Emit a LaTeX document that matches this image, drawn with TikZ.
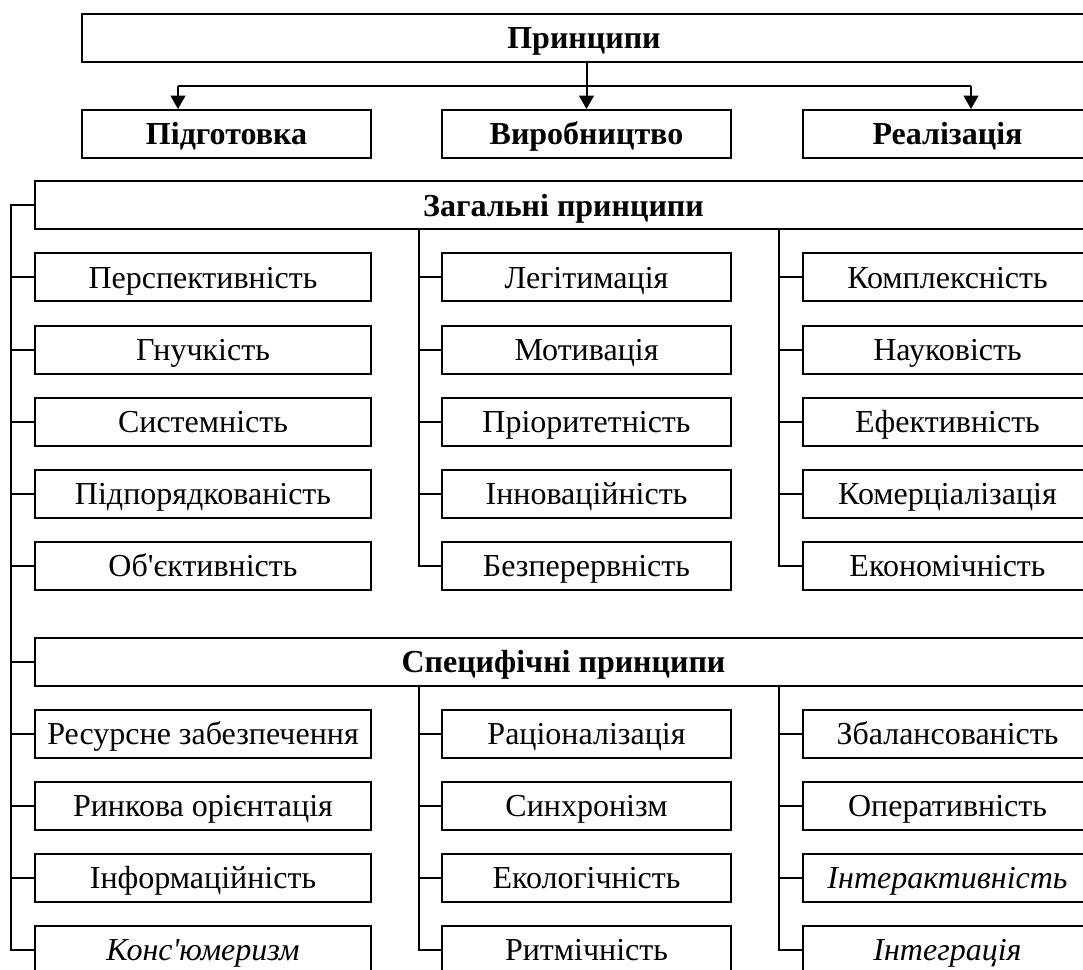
\documentclass[tikz,border=0pt]{standalone}
\usepackage{fontspec}
\newfontfamily\tnr{Liberation Serif}
\usetikzlibrary{arrows.meta}
\begin{document}
\begin{tikzpicture}[x=0.75pt,y=-0.75pt,
  lw/.style={line width=1.5pt},
  box/.style={draw, lw, inner sep=0pt, minimum height=36pt,
    text height=15.9pt, text depth=0pt,
    font=\tnr\fontsize{24}{28}\selectfont},
  hbox/.style={box, font=\tnr\bfseries\fontsize{24}{28}\selectfont},
  wide/.style={minimum width=252pt},
  narrow/.style={minimum width=216.75pt},
  it/.style={font=\tnr\itshape\fontsize{24}{28}\selectfont},
  tree/.style={lw},
  arr/.style={lw, -{Triangle[length=10pt,width=11pt]}}
]
\useasboundingbox (0,0) rectangle (1083,970);
\clip (0,0) rectangle (1083,970);

% title and the three stages
\node[hbox, minimum width=753pt] (top) at (584,38) {Принципи};
\node[hbox, narrow] (prep) at (226.5,134) {Підготовка};
\node[hbox, narrow] (prod) at (586.5,134) {Виробництво};
\node[hbox, narrow] (real) at (947.5,134) {Реалізація};

\coordinate (a1) at (178,86);
\coordinate (a3) at (971,86);
\draw[lw] (a1) -- (a3);
\draw[arr] (top.south -| prod) -- (prod.north);
\draw[arr] (a1) -- (a1 |- prep.north);
\draw[arr] (a3) -- (a3 |- real.north);

% general principles
\node[hbox, minimum width=792.75pt] (gen) at (563.5,205.5) {Загальні принципи};

\node[box, wide] (g11) at (203,277.5) {Перспективність};
\node[box, wide] (g12) at (203,349.6) {Гнучкість};
\node[box, wide] (g13) at (203,421.7) {Системність};
\node[box, wide] (g14) at (203,493.8) {Підпорядкованість};
\node[box, wide] (g15) at (203,565.9) {Об'єктивність};

\node[box, narrow] (g21) at (586.5,277.5) {Легітимація};
\node[box, narrow] (g22) at (586.5,349.6) {Мотивація};
\node[box, narrow] (g23) at (586.5,421.7) {Пріоритетність};
\node[box, narrow] (g24) at (586.5,493.8) {Інноваційність};
\node[box, narrow] (g25) at (586.5,565.9) {Безперервність};

\node[box, narrow] (g31) at (947.5,277.5) {Комплексність};
\node[box, narrow] (g32) at (947.5,349.6) {Науковість};
\node[box, narrow] (g33) at (947.5,421.7) {Ефективність};
\node[box, narrow] (g34) at (947.5,493.8) {Комерціалізація};
\node[box, narrow] (g35) at (947.5,565.9) {Економічність};

% specific principles
\node[hbox, minimum width=792.75pt] (spec) at (563.5,662) {Специфічні принципи};

\node[box, wide] (s11) at (203,734) {Ресурсне забезпечення};
\node[box, wide] (s12) at (203,806) {Ринкова орієнтація};
\node[box, wide] (s13) at (203,878) {Інформаційність};
\node[box, wide, it] (s14) at (203,950) {Конс'юмеризм};

\node[box, narrow] (s21) at (586.5,734) {Раціоналізація};
\node[box, narrow] (s22) at (586.5,806) {Синхронізм};
\node[box, narrow] (s23) at (586.5,878) {Екологічність};
\node[box, narrow] (s24) at (586.5,950) {Ритмічність};

\node[box, narrow] (s31) at (947.5,734) {Збалансованість};
\node[box, narrow] (s32) at (947.5,806) {Оперативність};
\node[box, narrow, it] (s33) at (947.5,878) {Інтерактивність};
\node[box, narrow, it] (s34) at (947.5,950) {Інтеграція};

% connecting tree
\coordinate (L) at (11,0);
\coordinate (S2) at (419,0);
\coordinate (S3) at (779,0);

\draw[tree] (gen.west) -- (gen.west -| L) |- (s14.west);
\foreach \n in {spec,g11,g12,g13,g14,g15,s11,s12,s13}
  \draw[tree] (L |- \n.west) -- (\n.west);

\draw[tree] (gen.south -| S2) |- (g25.west);
\draw[tree] (gen.south -| S3) |- (g35.west);
\foreach \n in {g21,g22,g23,g24}
  \draw[tree] (S2 |- \n.west) -- (\n.west);
\foreach \n in {g31,g32,g33,g34}
  \draw[tree] (S3 |- \n.west) -- (\n.west);

\draw[tree] (spec.south -| S2) |- (s24.west);
\draw[tree] (spec.south -| S3) |- (s34.west);
\foreach \n in {s21,s22,s23}
  \draw[tree] (S2 |- \n.west) -- (\n.west);
\foreach \n in {s31,s32,s33}
  \draw[tree] (S3 |- \n.west) -- (\n.west);
\end{tikzpicture}
\end{document}
